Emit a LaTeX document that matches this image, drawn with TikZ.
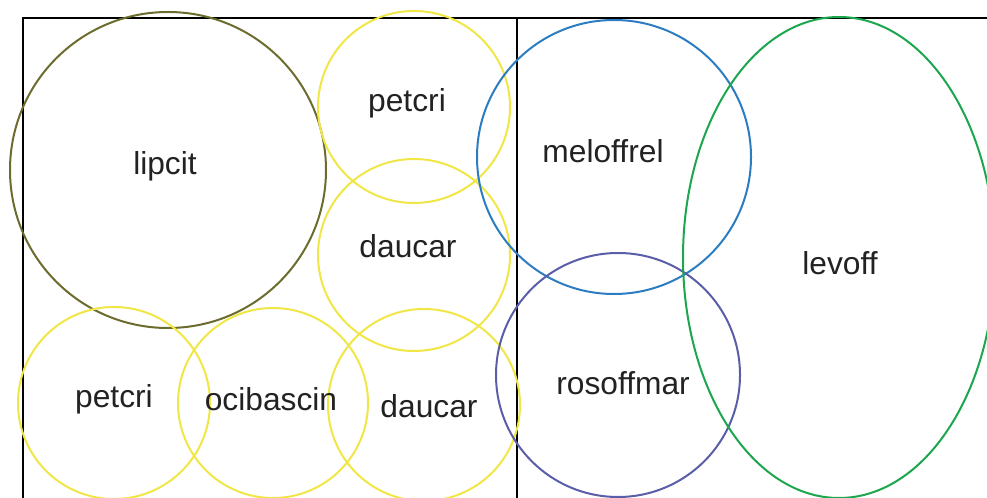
\documentclass[tikz,border=0pt]{standalone}
\usepackage{fontspec}
\setmainfont{Liberation Sans}
\usetikzlibrary{shapes.geometric}
\definecolor{olivec}{RGB}{108,108,46}
\definecolor{yellowc}{RGB}{240,230,70}
\definecolor{bluec}{RGB}{44,124,194}
\definecolor{purplec}{RGB}{90,94,168}
\definecolor{greenc}{RGB}{28,166,78}
\definecolor{txtc}{RGB}{34,34,34}
\tikzset{
  frame/.style={draw=black,line width=1.5pt},
  ring/.style={circle,draw,line width=1.5pt,inner sep=0pt,minimum size=#1},
  lab/.style={font=\fontsize{23.8}{27}\selectfont,text=txtc,inner sep=0pt}
}
\begin{document}
\begin{tikzpicture}[x=0.75pt,y=-0.75pt]
\useasboundingbox (0,0) rectangle (987,498);
\clip (0,0) rectangle (987,498);
\node[frame,rectangle,inner sep=0pt,minimum width=494*0.75pt,minimum height=520*0.75pt,anchor=north west] (leftbox) at (22,17) {};
\node[frame,rectangle,inner sep=0pt,minimum width=500*0.75pt,minimum height=520*0.75pt,anchor=north west] (rightbox) at (516,17) {};
% circles
\node[ring=316*0.75pt,draw=olivec] (c1) at (168,170) {};
\node[ring=192*0.75pt,draw=yellowc] (c2) at (414,107) {};
\node[ring=192*0.75pt,draw=yellowc] (c3) at (414,255) {};
\node[ring=192*0.75pt,draw=yellowc] (c4) at (114,403) {};
\node[ring=190*0.75pt,draw=yellowc] (c5) at (273,403) {};
\node[ring=192*0.75pt,draw=yellowc] (c6) at (424,405) {};
\node[ring=274*0.75pt,draw=bluec] (c7) at (614,157) {};
\node[ring=244*0.75pt,draw=purplec] (c8) at (618,375) {};
\node[ellipse,draw=greenc,line width=1.5pt,inner sep=0pt,minimum width=312*0.75pt,minimum height=481*0.75pt] (c9) at (839,257.5) {};
% labels
\node[lab] (t1) at (165,166) {lipcit};
\node[lab] (t2) at (407,103) {petcri};
\node[lab] (t3) at (408,246) {daucar};
\node[lab] (t4) at (114,399) {petcri};
\node[lab] (t5) at (271,399) {ocibascin};
\node[lab] (t6) at (429,406) {daucar};
\node[lab] (t7) at (603,151) {meloffrel};
\node[lab] (t8) at (623,383) {rosoffmar};
\node[lab] (t9) at (840,263) {levoff};
\end{tikzpicture}
\end{document}
